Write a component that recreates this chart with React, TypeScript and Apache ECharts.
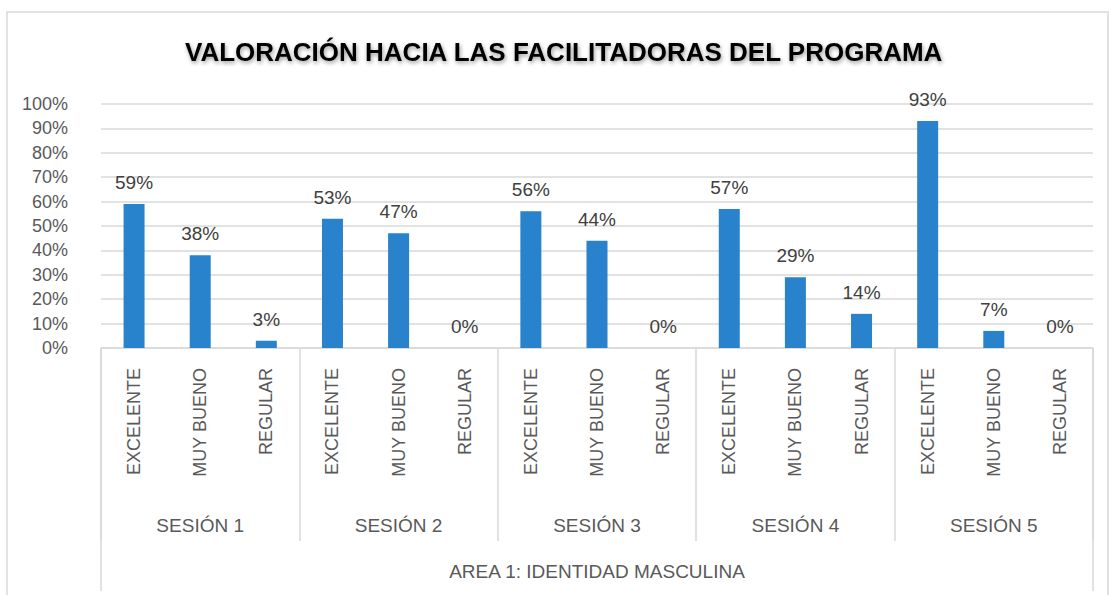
import React, { useEffect, useRef } from "react";
import * as echarts from "echarts";

const TITLE = "VALORACIÓN HACIA LAS FACILITADORAS DEL PROGRAMA";
const ratings = ["EXCELENTE", "MUY BUENO", "REGULAR"];
const sessions = ["SESIÓN 1", "SESIÓN 2", "SESIÓN 3", "SESIÓN 4", "SESIÓN 5"];
const areaLabel = ["AREA 1: IDENTIDAD MASCULINA"];
// percentages per session: EXCELENTE, MUY BUENO, REGULAR
const session1 = [59, 38, 3];
const session2 = [53, 47, 0];
const session3 = [56, 44, 0];
const session4 = [57, 29, 14];
const session5 = [93, 7, 0];

const FONT = "'Liberation Sans', Arial, sans-serif";

export default function App() {
  const ref = useRef<HTMLDivElement>(null);
  useEffect(() => {
    if (!ref.current) return;
    const chart = echarts.init(ref.current, null, { renderer: "svg" });
    const categories: string[] = [];
    sessions.forEach(() => ratings.forEach((r) => categories.push(r)));
    const values = [...session1, ...session2, ...session3, ...session4, ...session5].map((v) => v / 100);
    const lineColor = "#d9d9d9";
    chart.setOption({
      animation: false,
      textStyle: { fontFamily: FONT },
      title: {
        text: TITLE,
        left: 180,
        top: 34,
        textStyle: {
          fontFamily: FONT,
          fontWeight: "bold",
          fontSize: 26,
          color: "#000",
          textShadowColor: "rgba(0,0,0,0.4)",
          textShadowBlur: 4,
          textShadowOffsetX: 1,
          textShadowOffsetY: 2,
        },
      },
      graphic: [
        {
          type: "rect",
          shape: { x: 7, y: 12, width: 1101, height: 620 },
          style: { fill: "none", stroke: lineColor, lineWidth: 1.5 },
          silent: true,
          z: -10,
        },
      ],
      grid: { left: 101, right: 16, top: 104, bottom: 247, containLabel: false },
      xAxis: [
        {
          type: "category",
          data: categories,
          position: "bottom",
          axisLine: { show: true, lineStyle: { color: lineColor, width: 1.5 } },
          axisTick: { show: false },
          axisLabel: {
            interval: 0,
            rotate: 90,
            margin: 20,
            fontSize: 18,
            color: "#595959",
            fontFamily: FONT,
          },
          splitLine: { show: false },
        },
        {
          type: "category",
          data: sessions,
          position: "bottom",
          axisLine: { show: false },
          axisTick: { show: true, interval: 0, length: 193, lineStyle: { color: lineColor, width: 1.5 } },
          axisLabel: { interval: 0, margin: 168, fontSize: 19, color: "#595959", fontFamily: FONT },
          splitLine: { show: false },
        },
        {
          type: "category",
          data: areaLabel,
          position: "bottom",
          axisLine: { show: false },
          axisTick: { show: true, interval: 0, length: 243, lineStyle: { color: lineColor, width: 1.5 } },
          axisLabel: { interval: 0, margin: 214, fontSize: 19, color: "#595959", fontFamily: FONT },
          splitLine: { show: false },
        },
      ],
      yAxis: {
        type: "value",
        min: 0,
        max: 1,
        interval: 0.1,
        axisLine: { show: false },
        axisTick: { show: false },
        axisLabel: {
          margin: 33,
          fontSize: 18,
          color: "#595959",
          fontFamily: FONT,
          formatter: (v: number) => `${Math.round(v * 100)}%`,
        },
        splitLine: { lineStyle: { color: lineColor, width: 1.5 } },
      },
      series: [
        {
          type: "bar",
          xAxisIndex: 0,
          data: values,
          barWidth: 21,
          itemStyle: { color: "#2982CC" },
          label: {
            show: true,
            position: "top",
            distance: 12,
            fontSize: 19,
            color: "#404040",
            fontFamily: FONT,
            formatter: (p: any) => `${Math.round(p.value * 100)}%`,
          },
        },
      ],
    });
    return () => chart.dispose();
  }, []);
  return (
    <div
      ref={ref}
      style={{ position: "fixed", left: 0, top: 0, width: 1109, height: 595, background: "#fff" }}
    />
  );
}
